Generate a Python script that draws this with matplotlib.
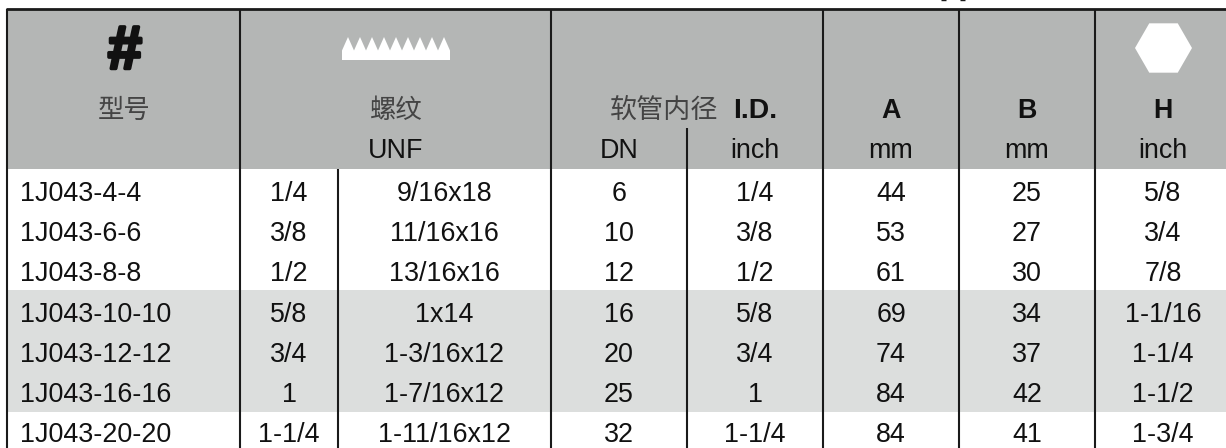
from matplotlib import pyplot as plt
from matplotlib import patheffects
from matplotlib.patches import Polygon, Rectangle, RegularPolygon

plt.rcParams['font.family'] = ['Liberation Sans', 'Noto Sans CJK SC']

models = ['1J043-4-4', '1J043-6-6', '1J043-8-8', '1J043-10-10', '1J043-12-12', '1J043-16-16', '1J043-20-20']
thread_in = ['1/4', '3/8', '1/2', '5/8', '3/4', '1', '1-1/4']
thread_unf = ['9/16x18', '11/16x16', '13/16x16', '1x14', '1-3/16x12', '1-7/16x12', '1-11/16x12']
hose_dn = ['6', '10', '12', '16', '20', '25', '32']
hose_inch = ['1/4', '3/8', '1/2', '5/8', '3/4', '1', '1-1/4']
a_mm = ['44', '53', '61', '69', '74', '84', '84']
b_mm = ['25', '27', '30', '34', '37', '42', '41']
h_inch = ['5/8', '3/4', '7/8', '1-1/16', '1-1/4', '1-1/2', '1-3/4']

fig = plt.figure(figsize=(12.26, 4.48), dpi=100)
ax = fig.add_axes([0, 0, 1, 1])
ax.set_xlim(0, 1226)
ax.set_ylim(448, 0)
ax.axis('off')

header_top = 9.5
header_bottom = 169
row_h = 40.5
text_pitch = 40.3
fs = 19.4
cjk = 'Noto Sans CJK SC'
cjk_color = '#444444'

# backgrounds
ax.add_patch(Rectangle((7, header_top), 1219, header_bottom - header_top, color='#b4b6b5', lw=0))
ax.add_patch(Rectangle((7, header_bottom + 3 * row_h), 1219, 3 * row_h, color='#dcdedd', lw=0))

# grid lines
ax.hlines(header_top, 6, 1226, color='#1a1a1a', lw=2)
ax.vlines([7, 240, 551, 823, 959, 1095], header_top, 448, color='#1a1a1a', lw=1.5)
ax.vlines(338, header_bottom, 448, color='#1a1a1a', lw=1.5)
ax.vlines(687, 128, 448, color='#1a1a1a', lw=1.5)

# bits of a cut off title at the top edge
ax.hlines([0.5, 0.5], [941, 960], [946, 965], color='#1a1a1a', lw=1)

# header
ax.text(124, 53, '#', fontsize=44, fontweight='bold', fontstyle='italic', ha='center', va='center', color='#111111',
        path_effects=[patheffects.withStroke(linewidth=2.5, foreground='#111111')])
ax.text(124, 110, '型号', family=cjk, fontsize=19, ha='center', va='center', color=cjk_color)
ax.text(396, 110, '螺纹', family=cjk, fontsize=19, ha='center', va='center', color=cjk_color)
ax.text(664, 110, '软管内径', family=cjk, fontsize=19.5, ha='center', va='center', color=cjk_color)
ax.text(755, 110.5, 'I.D.', fontsize=fs + 1, fontweight='bold', ha='center', va='center', color='#111111')
for x, t in [(891, 'A'), (1027, 'B'), (1163, 'H')]:
    ax.text(x, 110.5, t, fontsize=fs, fontweight='bold', ha='center', va='center', color='#111111')
for x, t in [(396, 'UNF'), (619, 'DN'), (755, 'inch'), (891, 'mm'), (1027, 'mm'), (1163, 'inch')]:
    ax.text(x, 151.5, t, fontsize=fs, ha='center', va='center', color='#111111')

# thread icon, hex icon
teeth = 9
pts = [(342, 60), (342, 50.5)]
step = (450 - 342) / teeth
for i in range(teeth):
    pts.append((342 + step * (i + 0.5), 37))
    pts.append((342 + step * (i + 1), 50.5))
pts.append((450, 60))
ax.add_patch(Polygon(pts, closed=True, color='white', lw=0))
ax.add_patch(RegularPolygon((1163.5, 48), 6, radius=28.5, orientation=0.5236, color='white', lw=0))

# rows
columns = [(289, thread_in), (444.5, thread_unf), (619, hose_dn), (755, hose_inch),
           (891, a_mm), (1027, b_mm), (1163, h_inch)]
for i in range(len(models)):
    y = 193.7 + i * text_pitch
    ax.text(20, y, models[i], fontsize=fs, ha='left', va='center', color='#111111')
    for x, vals in columns:
        ax.text(x, y, vals[i], fontsize=fs, ha='center', va='center', color='#111111')

fig.savefig('out.png', dpi=100)
